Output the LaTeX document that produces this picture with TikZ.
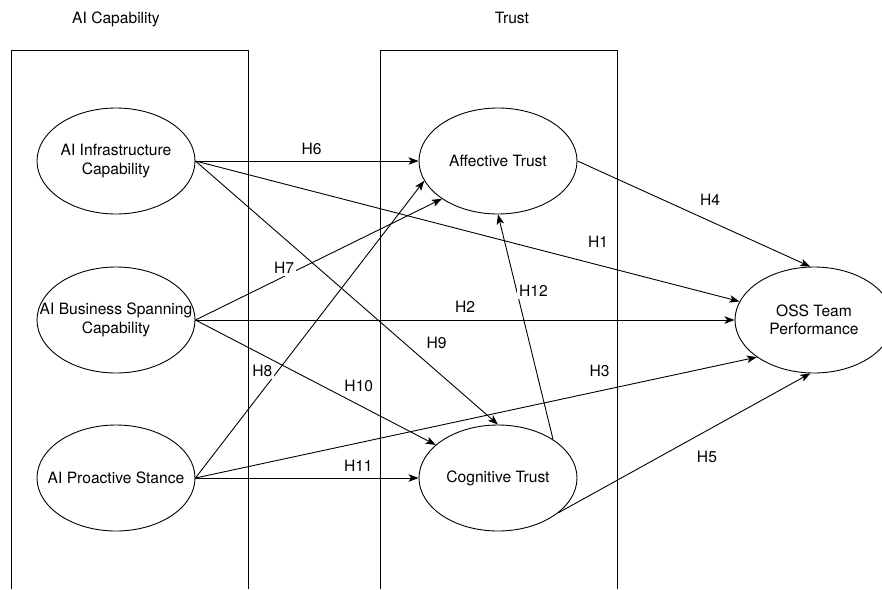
\documentclass[tikz,border=0pt]{standalone}
\usepackage{fontspec}
\setmainfont{TeX Gyre Heros}
\usetikzlibrary{arrows.meta, positioning, shapes.geometric}

\begin{document}
\begin{tikzpicture} [x=1pt, y=-1pt, align=center, line width=0.9pt,
    font=\fontsize{15.6}{18.5}\selectfont,
    construct/.style={draw, ellipse, minimum width=158pt, minimum height=106pt, inner sep=0pt},
    hyp/.style={-{Stealth[length=10pt, width=7.5pt, inset=2.5pt]}},
    hlabel/.style={fill=white, inner sep=2pt}]
    \useasboundingbox (0,0) rectangle (882,589);

    % Draw the group boxes and titles
    \draw (11,589) -- (11,50) -- (248,50) -- (248,589);
    \draw (380,589) -- (380,50) -- (617,50) -- (617,589);
    \node[anchor=base] (captitle) at (116,23) {AI Capability};
    \node[anchor=base] (trusttitle) at (512,23) {Trust};

    % Draw the constructs
    \node[construct, label=center:{AI Infrastructure\\Capability}] (infra) at (116,161) {};
    \node[construct, label=center:{AI Business Spanning\\Capability}] (business) at (116,320) {};
    \node[construct, label=center:{AI Proactive Stance}] (proactive) at (116,478) {};
    \node[construct, label=center:{Affective Trust}] (affective) at (498,161) {};
    \node[construct, label=center:{Cognitive Trust}] (cognitive) at (498,478) {};
    \node[construct, label=center:{OSS Team\\Performance}] (oss) at (814,320) {};

    % Draw the paths from AI capability
    \draw[hyp] (infra.east) -- node[hlabel, pos=.52, above=3.4pt] {H6} (affective.west);
    \draw[hyp] (infra.east) -- node[hlabel, pos=.74, above=15.4pt] {H1} (oss.166);
    \draw[hyp] (infra.east) -- node[hlabel, pos=.69, right=20pt] {H9} (cognitive.north);
    \draw[hyp] (business.east) -- node[hlabel, pos=.36, above=0pt] {H7} (affective.214);
    \draw[hyp] (business.east) -- node[hlabel, pos=.5, above=5.4pt] {H2} (oss.west);
    \draw[hyp] (business.east) -- node[hlabel, pos=.68, above=10.4pt] {H10} (cognitive.152);
    \draw[hyp] (proactive.east) -- node[hlabel, pos=.36, left=3pt] {H8} (affective.195);
    \draw[hyp] (proactive.east) -- node[hlabel, pos=.72, above=12pt] {H3} (oss.213);
    \draw[hyp] (proactive.east) -- node[hlabel, pos=.73, above=4.4pt] {H11} (cognitive.west);

    % Draw the paths from trust
    \draw[hyp] (cognitive.35) -- node[hlabel, pos=.66, right=0pt] {H12} (affective.south);
    \draw[hyp] (affective.east) -- node[hlabel, pos=.57, above=13.4pt] {H4} (oss.94);
    \draw[hyp] (cognitive.330) -- node[hlabel, pos=.59, below=18.4pt] {H5} (oss.266);
\end{tikzpicture}
\end{document}
